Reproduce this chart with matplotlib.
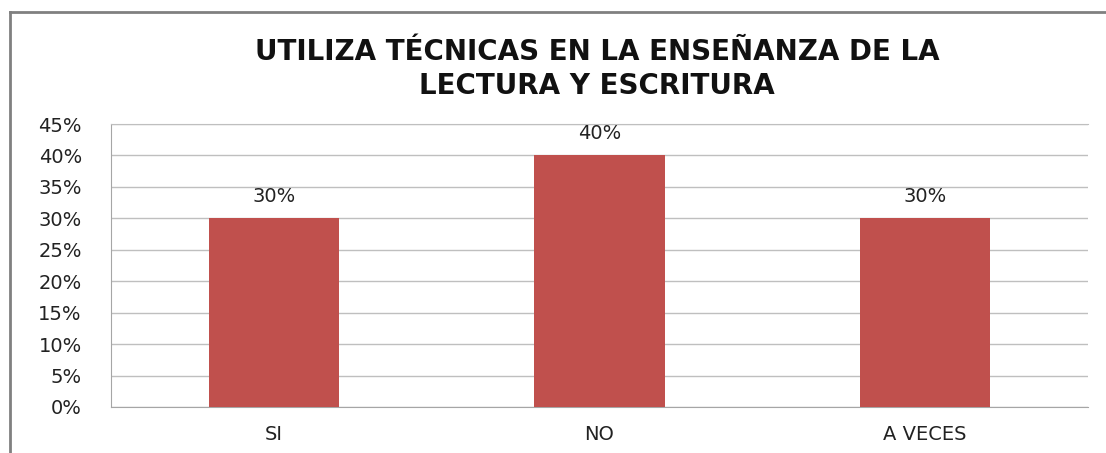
import numpy as np
import matplotlib.pyplot as plt
from matplotlib.lines import Line2D

# Chart data
categorias = ['SI', 'NO', 'A VECES']
porcentajes = [0.30, 0.40, 0.30]
etiquetas = ['30%', '40%', '30%']
yticks = np.arange(0, 0.46, 0.05)
ytick_labels = ['0%', '5%', '10%', '15%', '20%', '25%', '30%', '35%', '40%', '45%']
titulo = 'UTILIZA TÉCNICAS EN LA ENSEÑANZA DE LA\nLECTURA Y ESCRITURA'

plt.rcParams['font.family'] = ['DejaVu Sans']

fig = plt.figure(figsize=(11.06, 4.53), dpi=100)
W, H = 1106, 453
# plot area in pixels: left 111, right 1088, top 124, bottom 407
ax = fig.add_axes([111 / W, 1 - 407 / H, (1088 - 111) / W, (407 - 124) / H])

x = np.arange(len(categorias))
ax.bar(x, porcentajes, width=0.4, color='#C0504D', zorder=3)

for xi, v, lab in zip(x, porcentajes, etiquetas):
    ax.annotate(lab, (xi, v), xytext=(0, 9), textcoords='offset points',
                ha='center', va='bottom', fontsize=14, color='#222222')

ax.set_xlim(-0.5, len(categorias) - 0.5)
ax.set_ylim(0, 0.45)
ax.set_yticks(yticks)
ax.set_yticklabels(ytick_labels, fontsize=14, color='#222222')
ax.set_xticks(x)
ax.set_xticklabels(categorias, fontsize=14, color='#222222')
ax.tick_params(axis='y', length=0, pad=21)
ax.tick_params(axis='x', length=0, pad=13)

ax.grid(axis='y', color='#BFBFBF', lw=1, zorder=0)
ax.spines['right'].set_visible(False)
ax.spines['top'].set_color('#BFBFBF')
ax.spines['left'].set_color('#A6A6A6')
ax.spines['bottom'].set_color('#A6A6A6')

fig.text(597 / W, 1 - 69 / H, titulo, ha='center', va='center',
         fontsize=20, fontweight='bold', linespacing=1.3, color='#111111')

# chart outer frame (left and top edges visible)
fig.add_artist(Line2D([10 / W, 10 / W], [0, 1 - 12 / H], color='#808080', lw=2,
                      transform=fig.transFigure))
fig.add_artist(Line2D([10 / W, 1], [1 - 12 / H, 1 - 12 / H], color='#808080', lw=2,
                      transform=fig.transFigure))

fig.savefig('out.png', dpi=100)
